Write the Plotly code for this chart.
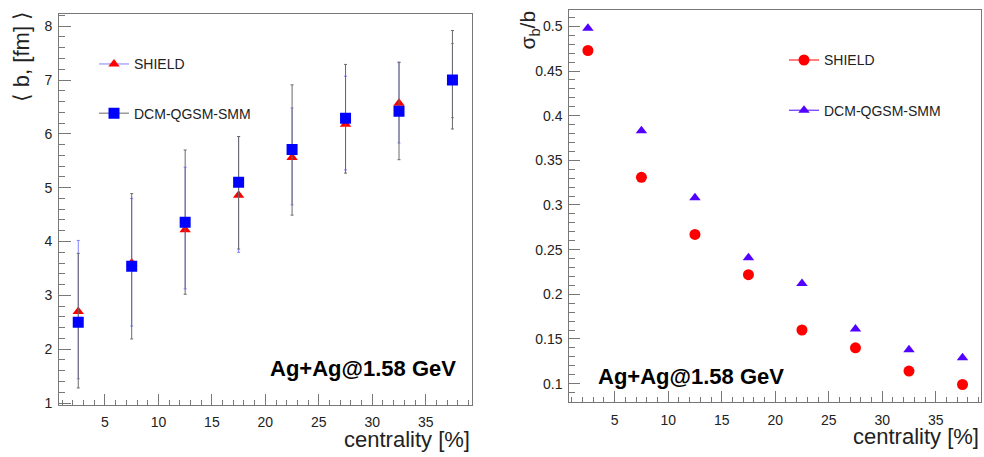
import plotly.graph_objects as go

# ---------------- data ----------------
centrality = [2.5, 7.5, 12.5, 17.5, 22.5, 27.5, 32.5, 37.5]

# left panel: <b> [fm]
shield_b = [2.70, 3.60, 4.22, 4.86, 5.56, 6.18, 6.57, 6.98]
shield_b_hi = [4.02, 4.80, 5.38, 5.95, 6.48, 7.07, 7.33, 7.68]
shield_b_lo = [1.45, 2.43, 3.12, 3.80, 4.68, 5.33, 5.83, 6.30]

dcm_b = [2.50, 3.54, 4.36, 5.10, 5.71, 6.29, 6.42, 7.00]
dcm_b_hi = [3.78, 4.89, 5.70, 5.95, 6.91, 7.29, 7.33, 7.92]
dcm_b_lo = [1.28, 2.19, 3.02, 3.86, 4.49, 5.27, 5.52, 6.09]

# right panel: sigma_b / b
shield_sig = [0.473, 0.331, 0.267, 0.222, 0.160, 0.140, 0.114, 0.099]
dcm_sig = [0.498, 0.383, 0.308, 0.241, 0.212, 0.161, 0.138, 0.129]

right_ytickvals = [0.1, 0.15, 0.2, 0.25, 0.3, 0.35, 0.4, 0.45, 0.5]
right_yticktext = ["0.1", "0.15", "0.2", "0.25", "0.3", "0.35", "0.4", "0.45", "0.5"]

# ---------------- styling ----------------
FONT = "Liberation Sans, Arial, Helvetica, sans-serif"
W, H = 984, 457
RED = "#ff0000"
BLUE = "#0000ff"
VIOLET = "#5200ff"
ERR_BLUE = "#8080ff"
ERR_GRAY = "#6a6a6a"
AXC = "#777777"
TXT = "#222222"


def px_x(p):
    return p / W


def px_y(p):
    return 1 - p / H


fig = go.Figure()

# ---- left panel data ----
fig.add_trace(go.Scatter(
    x=centrality, y=shield_b, mode="markers", showlegend=False,
    marker=dict(symbol="triangle-up", size=10, color=RED, line=dict(width=0)),
    error_y=dict(type="data", symmetric=False,
                 array=[h - v for h, v in zip(shield_b_hi, shield_b)],
                 arrayminus=[v - l for v, l in zip(shield_b, shield_b_lo)],
                 color=ERR_BLUE, thickness=1, width=1.5),
    xaxis="x", yaxis="y"))
fig.add_trace(go.Scatter(
    x=centrality, y=dcm_b, mode="markers", showlegend=False,
    marker=dict(symbol="square", size=11, color=BLUE, line=dict(width=0)),
    error_y=dict(type="data", symmetric=False,
                 array=[h - v for h, v in zip(dcm_b_hi, dcm_b)],
                 arrayminus=[v - l for v, l in zip(dcm_b, dcm_b_lo)],
                 color=ERR_GRAY, thickness=1, width=1.5),
    xaxis="x", yaxis="y"))

# ---- right panel data ----
fig.add_trace(go.Scatter(
    x=centrality, y=shield_sig, mode="markers", showlegend=False,
    marker=dict(symbol="circle", size=11, color=RED, line=dict(width=0)),
    xaxis="x2", yaxis="y2"))
fig.add_trace(go.Scatter(
    x=centrality, y=dcm_sig, mode="markers", showlegend=False,
    marker=dict(symbol="triangle-up", size=10, color=VIOLET, line=dict(width=0)),
    xaxis="x2", yaxis="y2"))

# ---- legend entries ----
fig.add_trace(go.Scatter(
    x=[None], y=[None], mode="lines+markers", name="SHIELD", legend="legend",
    legendgroup="l1", line=dict(color=ERR_BLUE, width=1),
    marker=dict(symbol="triangle-up", size=10, color=RED), xaxis="x", yaxis="y"))
fig.add_trace(go.Scatter(
    x=[None], y=[None], mode="lines+markers", name="DCM-QGSM-SMM", legend="legend",
    legendgroup="l2", line=dict(color=ERR_GRAY, width=1),
    marker=dict(symbol="square", size=11, color=BLUE), xaxis="x", yaxis="y"))
fig.add_trace(go.Scatter(
    x=[None], y=[None], mode="lines+markers", name="SHIELD", legend="legend2",
    legendgroup="r1", line=dict(color=RED, width=1),
    marker=dict(symbol="circle", size=11, color=RED), xaxis="x2", yaxis="y2"))
fig.add_trace(go.Scatter(
    x=[None], y=[None], mode="lines+markers", name="DCM-QGSM-SMM", legend="legend2",
    legendgroup="r2", line=dict(color=VIOLET, width=1),
    marker=dict(symbol="triangle-up", size=10, color=VIOLET), xaxis="x2", yaxis="y2"))

common_axis = dict(
    showline=True, linecolor=AXC, linewidth=1, mirror=True,
    ticks="inside", tickcolor=AXC, tickwidth=1,
    showgrid=False, zeroline=False,
    tickfont=dict(family=FONT, size=14, color=TXT),
)

fig.update_layout(
    width=W, height=H,
    margin=dict(l=0, r=0, t=0, b=0),
    paper_bgcolor="white", plot_bgcolor="white",
    font=dict(family=FONT, color=TXT),
    xaxis=dict(domain=[px_x(59), px_x(471.7)], range=[0.7, 39.3], anchor="y",
               tick0=0, dtick=5, ticklen=11, ticklabelstandoff=5,
               minor=dict(dtick=1, ticks="inside", ticklen=5, tickcolor=AXC),
               **common_axis),
    yaxis=dict(domain=[px_y(410), px_y(14)], range=[0.97, 8.23], anchor="x",
               tick0=0, dtick=1, ticklen=12, ticklabelstandoff=3,
               minor=dict(dtick=0.2, ticks="inside", ticklen=6, tickcolor=AXC),
               **common_axis),
    xaxis2=dict(domain=[px_x(569.3), px_x(980.7)], range=[0.76, 39.2], anchor="y2",
                tick0=0, dtick=5, ticklen=11, ticklabelstandoff=5,
                minor=dict(dtick=1, ticks="inside", ticklen=5, tickcolor=AXC),
                **common_axis),
    yaxis2=dict(domain=[px_y(407.7), px_y(10)], range=[0.079, 0.5185], anchor="x2",
                tickmode="array", tickvals=right_ytickvals, ticktext=right_yticktext,
                ticklen=11, ticklabelstandoff=3,
                minor=dict(dtick=0.01, tick0=0, ticks="inside", ticklen=6, tickcolor=AXC),
                **common_axis),
    legend=dict(x=px_x(94), y=px_y(49), xanchor="left", yanchor="top",
                bgcolor="rgba(0,0,0,0)", font=dict(family=FONT, size=14, color=TXT),
                tracegroupgap=28, traceorder="grouped"),
    legend2=dict(x=px_x(784), y=px_y(45), xanchor="left", yanchor="top",
                 bgcolor="rgba(0,0,0,0)", font=dict(family=FONT, size=14, color=TXT),
                 tracegroupgap=29, traceorder="grouped"),
    annotations=[
        dict(text="⟨ b, [fm] ⟩", x=px_x(21), y=px_y(58), xref="paper", yref="paper",
             xanchor="center", yanchor="middle", textangle=-90, showarrow=False,
             font=dict(family=FONT, size=22, color=TXT)),
        dict(text="σ<sub>b</sub>/b", x=px_x(529), y=px_y(31), xref="paper", yref="paper",
             xanchor="center", yanchor="middle", textangle=-90, showarrow=False,
             font=dict(family=FONT, size=21, color=TXT)),
        dict(text="centrality [%]", x=px_x(472), y=px_y(445), xref="paper", yref="paper",
             xanchor="right", yanchor="middle", showarrow=False,
             font=dict(family=FONT, size=22, color=TXT)),
        dict(text="centrality [%]", x=px_x(981), y=px_y(442), xref="paper", yref="paper",
             xanchor="right", yanchor="middle", showarrow=False,
             font=dict(family=FONT, size=22, color=TXT)),
        dict(text="Ag+Ag@1.58 GeV", x=px_x(363), y=px_y(373.3), xref="paper", yref="paper",
             xanchor="center", yanchor="middle", showarrow=False,
             font=dict(family=FONT, size=22, color="#000000", weight="bold")),
        dict(text="Ag+Ag@1.58 GeV", x=px_x(691), y=px_y(381.7), xref="paper", yref="paper",
             xanchor="center", yanchor="middle", showarrow=False,
             font=dict(family=FONT, size=22, color="#000000", weight="bold")),
    ],
)

fig.write_html("out.html", config={"displayModeBar": False},
               post_script="document.body.style.margin='0';"
                           "document.body.style.overflow='hidden';")
